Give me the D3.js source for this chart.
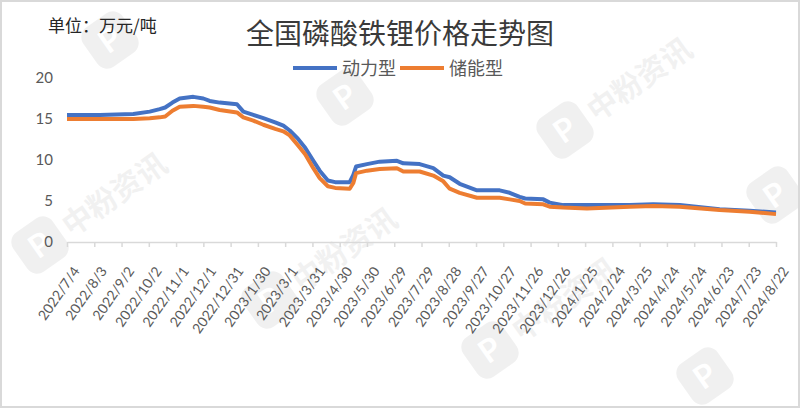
<!DOCTYPE html>
<html><head><meta charset="utf-8">
<script src="https://cdn.jsdelivr.net/npm/d3@7"></script>
<style>body{margin:0;background:#fff}svg{display:block}</style>
</head><body><svg id="c" width="800" height="408"></svg>
<script>
const dates = ["2022-07-04","2022-08-09","2022-09-15","2022-10-03","2022-10-14","2022-10-20","2022-10-28","2022-11-05","2022-11-20","2022-12-01","2022-12-08","2022-12-19","2023-01-07","2023-01-14","2023-01-25","2023-02-05","2023-02-18","2023-02-27","2023-03-06","2023-03-15","2023-03-23","2023-04-01","2023-04-08","2023-04-17","2023-04-25","2023-05-11","2023-05-15","2023-05-18","2023-05-30","2023-06-13","2023-07-02","2023-07-09","2023-07-27","2023-08-11","2023-08-22","2023-08-29","2023-09-09","2023-09-28","2023-10-23","2023-11-03","2023-11-14","2023-11-20","2023-12-10","2023-12-17","2024-01-01","2024-01-27","2024-03-14","2024-04-09","2024-05-08","2024-06-21","2024-07-24","2024-08-22"];
const power = [15.5,15.5,15.6,15.9,16.2,16.4,17.0,17.5,17.7,17.5,17.2,17.0,16.8,15.9,15.5,15.1,14.6,14.2,13.6,12.6,11.5,9.9,8.7,7.5,7.3,7.3,8.2,9.2,9.5,9.8,9.9,9.6,9.5,9.0,8.1,7.9,7.1,6.3,6.3,6.0,5.5,5.3,5.2,4.8,4.5,4.5,4.5,4.6,4.5,4.0,3.8,3.6];
const storage = [15.0,15.0,15.0,15.1,15.2,15.3,16.0,16.5,16.6,16.5,16.4,16.1,15.8,15.2,14.8,14.3,13.8,13.5,13.0,11.8,10.7,9.0,7.8,6.8,6.6,6.5,7.2,8.4,8.7,8.9,9.0,8.6,8.6,8.1,7.4,6.5,6.0,5.4,5.4,5.2,5.0,4.7,4.6,4.3,4.2,4.1,4.3,4.4,4.3,3.9,3.7,3.4];
const seriesNames = ["动力型","储能型"];
const yTicks = [0,5,10,15,20];
const xTickLabels = ["2022/7/4","2022/8/3","2022/9/2","2022/10/2","2022/11/1","2022/12/1","2022/12/31","2023/1/30","2023/3/1","2023/3/31","2023/4/30","2023/5/30","2023/6/29","2023/7/29","2023/8/28","2023/9/27","2023/10/27","2023/11/26","2023/12/26","2024/1/25","2024/2/24","2024/3/25","2024/4/24","2024/5/24","2024/6/23","2024/7/23","2024/8/22"];
const titleText = "全国磷酸铁锂价格走势图";
const unitText = "单位：万元/吨";

const colors = ["#4472C4","#ED7D31"];
const svg = d3.select("#c");
const parse = d3.timeParse("%Y-%m-%d");
const parseLbl = d3.timeParse("%Y/%m/%d");
const fmt = d3.timeFormat("%Y/%-m/%-d");
const cjk = "'Noto Sans CJK SC','Noto Sans',sans-serif";

// faint watermarks (decorative)
const wm = [[110,40,0],[345,97,0],[40,245,1],[270,300,1],[490,350,1],[565,130,1],[775,195,0],[705,376,0]];
const wg = svg.append("g");
wm.forEach(([cx,cy,t])=>{
  const g = wg.append("g").attr("transform",`translate(${cx},${cy}) rotate(-35)`);
  g.append("rect").attr("x",-24).attr("y",-24).attr("width",48).attr("height",48).attr("rx",12)
    .attr("fill","#000").attr("opacity",0.06);
  g.append("text").attr("x",0).attr("y",11).attr("text-anchor","middle")
    .attr("font-family","Lato,sans-serif").attr("font-weight","bold").attr("font-size",32)
    .attr("fill","#fff").text("P");
  if (t) g.append("text").attr("x",30).attr("y",12).attr("font-family",cjk).attr("font-weight","bold")
    .attr("font-size",30).attr("fill","#000").attr("opacity",0.05).text("中粉资讯");
});

// border
svg.append("rect").attr("x",1).attr("y",1).attr("width",798).attr("height",406)
  .attr("fill","none").attr("stroke","#d9d9d9").attr("stroke-width",2);

const x = d3.scaleTime().domain([parse(dates[0]), parse(dates[dates.length-1])]).range([67,776]);
const y = d3.scaleLinear().domain([0,20]).range([242,78]);

// title & unit
svg.append("text").attr("x",400).attr("y",44).attr("text-anchor","middle")
  .attr("font-family",cjk).attr("font-size",28).attr("fill","#3a3a3a").text(titleText);
svg.append("text").attr("x",48).attr("y",32)
  .attr("font-family",cjk).attr("font-size",17).attr("fill","#262626").text(unitText);

// legend
const legX = [293,400];
seriesNames.forEach((n,i)=>{
  svg.append("line").attr("x1",legX[i]).attr("x2",legX[i]+44).attr("y1",68).attr("y2",68)
    .attr("stroke",colors[i]).attr("stroke-width",4);
  svg.append("text").attr("x",legX[i]+49).attr("y",75).attr("font-family",cjk)
    .attr("font-size",18).attr("fill","#595959").text(n);
});

// y axis
const ya = svg.append("g").attr("transform","translate(53,0)")
  .call(d3.axisLeft(y).tickValues(yTicks).tickSize(0).tickPadding(0));
ya.select(".domain").remove();
ya.selectAll("text").attr("font-family","Lato,sans-serif").attr("font-size",15).attr("fill","#595959");

// x axis
const tickDates = xTickLabels.map(parseLbl);
const xa = svg.append("g").attr("transform","translate(0,242)")
  .call(d3.axisBottom(x).tickValues(tickDates).tickFormat(fmt).tickSize(5).tickSizeOuter(0));
xa.select(".domain").attr("stroke","#d9d9d9").attr("stroke-width",1.5);
xa.selectAll(".tick line").attr("stroke","#d9d9d9").attr("stroke-width",1.5);
xa.selectAll("text").attr("font-family","Lato,sans-serif").attr("font-size",14).attr("fill","#595959")
  .attr("x",13).attr("y",29).attr("dy",0).attr("text-anchor","end")
  .attr("transform","rotate(-55,13,29)");

// lines
const line = d3.line().x(d=>x(d.date)).y(d=>y(d.v));
[power, storage].forEach((vals,i)=>{
  const data = dates.map((d,k)=>({date:parse(d), v:vals[k]}));
  svg.append("path").datum(data).attr("d",line).attr("fill","none")
    .attr("stroke",colors[i]).attr("stroke-width",4).attr("stroke-linejoin","round");
});
</script></body></html>
